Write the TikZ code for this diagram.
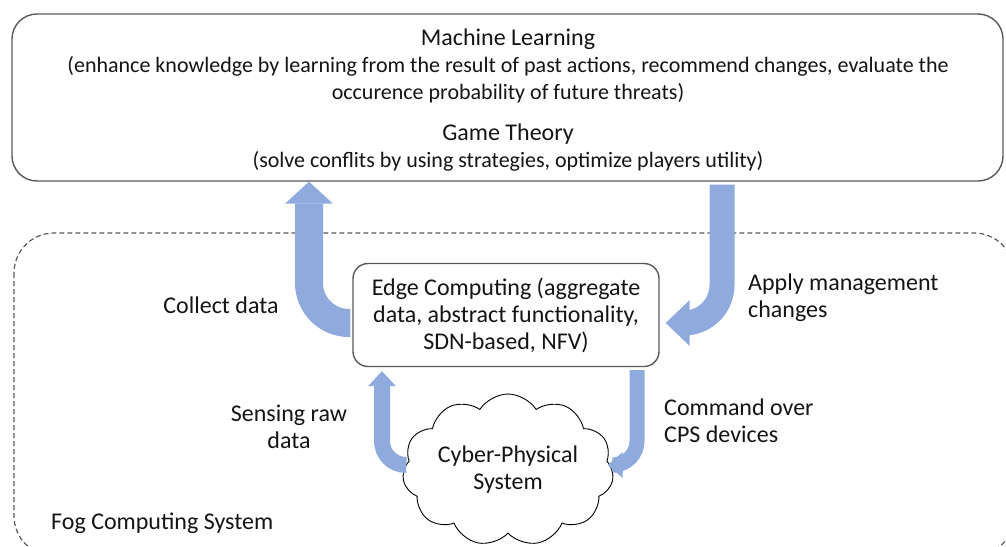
\documentclass[tikz,border=0pt]{standalone}
\usepackage{fontspec}
\setmainfont{Carlito}
\usepackage{xcolor}
\usetikzlibrary{shapes.symbols, arrows.meta, positioning, calc}
\definecolor{arrowblue}{RGB}{143,170,220}
\definecolor{linegray}{RGB}{89,89,89}
\definecolor{textgray}{RGB}{20,20,20}
\newcommand{\detail}[1]{{\fontsize{22}{27}\selectfont #1}}
\tikzset{
  box/.style={draw=linegray, line width=1.4pt, rounded corners=25pt, align=center, text=textgray, inner sep=0pt},
  txt/.style={text=textgray, inner sep=0pt},
  bigarrow/.style={draw=arrowblue, line cap=butt}
}

\begin{document}
\begin{tikzpicture}[x=1pt, y=-1pt, font=\fontsize{24}{27}\selectfont]
\useasboundingbox (0,0) rectangle (1006,546);

% upper layer
\node[box, minimum width=991pt, minimum height=167pt] (ML) at (507.5,97.5) {};
\node[txt, align=center] (MLtext) at (508,100)
  {Machine Learning\\\detail{(enhance knowledge by learning from the result of past actions, recommend changes, evaluate the}\\\detail{occurence probability of future threats)}\\[14pt]Game Theory\\\detail{(solve conflits by using strategies, optimize players utility)}};

% fog layer
\draw[linegray, line width=1.2pt, dash pattern=on 5pt off 3pt, rounded corners=40pt] (14,233) rectangle (1014,556);
\node[txt, anchor=west] (fog) at (51,523) {Fog Computing System};

\node[box, rounded corners=15pt, minimum width=306pt, minimum height=103pt] (edge) at (506,315)
  {Edge Computing (aggregate\\data, abstract functionality,\\SDN-based, NFV)};

\node[cloud, draw=black, line width=0.9pt, cloud puffs=11, cloud puff arc=115, cloud ignores aspect,
  minimum width=205pt, minimum height=152pt, align=center, text=textgray] (cps) at (508,470)
  {Cyber-Physical\\System};

% arrows
\draw[bigarrow, line width=28pt, rounded corners=40pt, -{Triangle[width=48pt, length=22pt, line width=0pt]}]
  ($(edge.west)+(-2,8)$) -| (309,0 |- ML.south);
\draw[bigarrow, line width=25pt, rounded corners=38pt, -{Triangle[width=46pt, length=24pt, line width=0pt]}]
  ($(ML.south -| 722,0)+(0,3)$) |- ($(edge.east)+(6,8)$);
\draw[bigarrow, line width=16pt, rounded corners=24pt, -{Triangle[width=28pt, length=15pt, line width=0pt]}]
  ($(cps.west)+(2,-5)$) -| ($(edge.south -| 382,0)+(0,4)$);
\draw[bigarrow, line width=15pt, rounded corners=24pt, -{Triangle[width=26pt, length=15pt, line width=0pt]}]
  ($(edge.south -| 637,0)+(0,3)$) |- ($(cps.east)+(-5,-5)$);

% labels
\node[txt] (collect) at (221,305) {Collect data};
\node[txt, anchor=west, align=left] (apply) at (748,298) {Apply management\\changes};
\node[txt, align=center] (sensing) at (289,427) {Sensing raw\\data};
\node[txt, anchor=west, align=left] (command) at (664,421) {Command over\\CPS devices};
\end{tikzpicture}
\end{document}
